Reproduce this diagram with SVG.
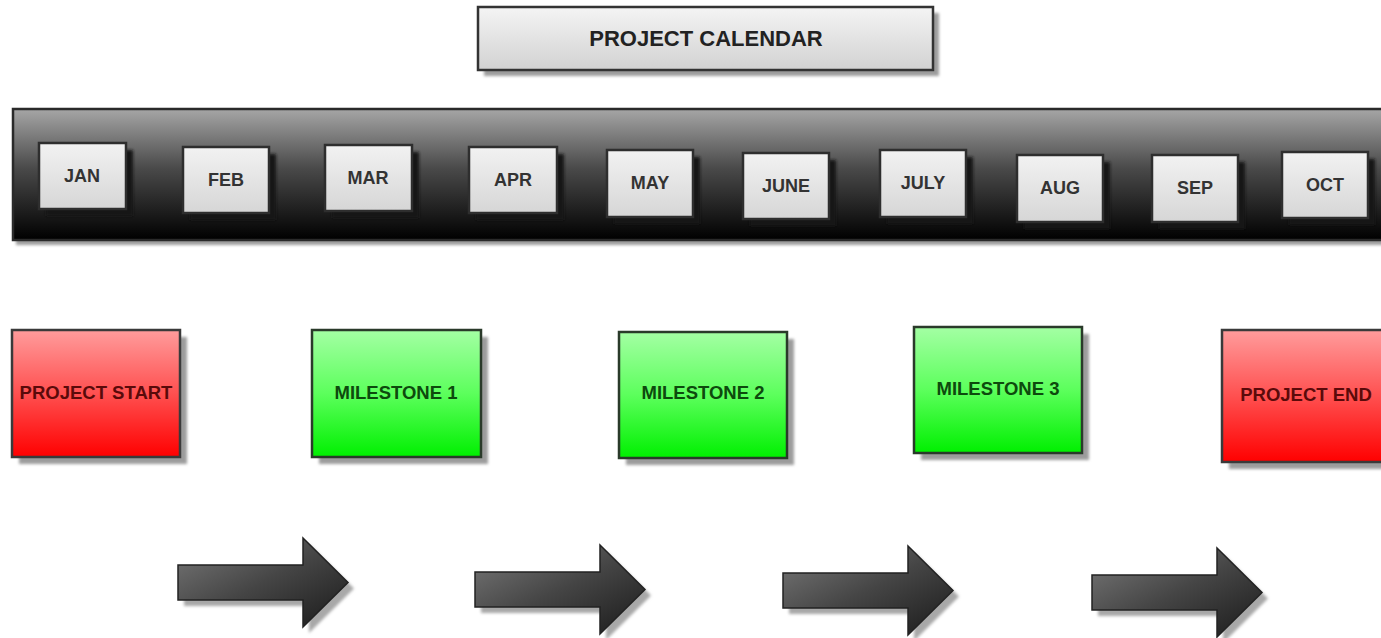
<svg xmlns="http://www.w3.org/2000/svg" width="1381" height="638" viewBox="0 0 1381 638">
<defs>
<linearGradient id="gTitle" x1="0" y1="0" x2="0" y2="1"><stop offset="0" stop-color="#f4f4f4"/><stop offset="1" stop-color="#d2d2d2"/></linearGradient>
<linearGradient id="gBar" x1="0" y1="0" x2="0" y2="1"><stop offset="0" stop-color="#a6a6a6"/><stop offset="0.45" stop-color="#4a4a4a"/><stop offset="1" stop-color="#000"/></linearGradient>
<linearGradient id="gMonth" x1="0" y1="0" x2="0" y2="1"><stop offset="0" stop-color="#f2f2f2"/><stop offset="1" stop-color="#d6d6d6"/></linearGradient>
<linearGradient id="gRed" x1="0" y1="0" x2="0" y2="1"><stop offset="0" stop-color="#ff9c9c"/><stop offset="0.5" stop-color="#ff5050"/><stop offset="1" stop-color="#ff0000"/></linearGradient>
<linearGradient id="gGreen" x1="0" y1="0" x2="0" y2="1"><stop offset="0" stop-color="#a4ffa4"/><stop offset="0.5" stop-color="#5cff5c"/><stop offset="1" stop-color="#00f000"/></linearGradient>
<linearGradient id="gArrow" x1="0" y1="0" x2="1" y2="1"><stop offset="0" stop-color="#7a7a7a"/><stop offset="0.5" stop-color="#454545"/><stop offset="1" stop-color="#1a1a1a"/></linearGradient>
<filter id="blur" x="-10%" y="-10%" width="120%" height="120%"><feGaussianBlur stdDeviation="1.5"/></filter>
<path id="arrowShape" d="M0,0 H125 V-27 L170,17.5 L125,62 V35 H0 Z"/>
</defs>
<style>
.shadow{fill:#9c9c9c;filter:url(#blur)}
.dshadow{fill:#151515;filter:url(#blur)}
.title{fill:url(#gTitle);stroke:#333;stroke-width:2.5}
.month{fill:url(#gMonth);stroke:#2e2e2e;stroke-width:2.5}
.red{fill:url(#gRed);stroke:#3a3a3a;stroke-width:2.5}
.green{fill:url(#gGreen);stroke:#2a3a2a;stroke-width:2.5}
.arrow{fill:url(#gArrow);stroke:#222;stroke-width:1.5}
.ashadow{fill:#a8a8a8;filter:url(#blur)}
text{font-family:"Liberation Sans",Arial,sans-serif;font-weight:bold;text-anchor:middle;dominant-baseline:central}
.tm{font-size:18px;fill:#333}
.tt{font-size:22px;fill:#222}
.tr{font-size:18.5px;fill:#5a0a0a}
.tg{font-size:18.5px;fill:#0d4a0d}
</style>
<rect width="1381" height="638" fill="#fff"/>

<g id="title">
<rect class="shadow" x="484" y="13" width="455" height="63"/>
<rect class="title" x="478" y="7" width="455" height="63"/>
<text class="tt" x="706" y="38">PROJECT CALENDAR</text>
</g>

<g id="calendar-bar">
<rect class="shadow" x="16" y="113" width="1380" height="132"/>
<rect x="13" y="109" width="1380" height="131" fill="url(#gBar)" stroke="#2a2a2a" stroke-width="2.5"/>
</g>

<g id="month-jan"><rect class="dshadow" x="46" y="150" width="87" height="66"/><rect class="month" x="39" y="143" width="87" height="66"/><text class="tm" x="82" y="176">JAN</text></g>
<g id="month-feb"><rect class="dshadow" x="190" y="154" width="86" height="66"/><rect class="month" x="183" y="147" width="86" height="66"/><text class="tm" x="226" y="180">FEB</text></g>
<g id="month-mar"><rect class="dshadow" x="332" y="152" width="87" height="66"/><rect class="month" x="325" y="145" width="87" height="66"/><text class="tm" x="368" y="178">MAR</text></g>
<g id="month-apr"><rect class="dshadow" x="476" y="154" width="88" height="66"/><rect class="month" x="469" y="147" width="88" height="66"/><text class="tm" x="513" y="180">APR</text></g>
<g id="month-may"><rect class="dshadow" x="614" y="157" width="86" height="67"/><rect class="month" x="607" y="150" width="86" height="67"/><text class="tm" x="650" y="183">MAY</text></g>
<g id="month-june"><rect class="dshadow" x="750" y="160" width="86" height="66"/><rect class="month" x="743" y="153" width="86" height="66"/><text class="tm" x="786" y="186">JUNE</text></g>
<g id="month-july"><rect class="dshadow" x="887" y="157" width="86" height="67"/><rect class="month" x="880" y="150" width="86" height="67"/><text class="tm" x="923" y="183">JULY</text></g>
<g id="month-aug"><rect class="dshadow" x="1024" y="162" width="86" height="67"/><rect class="month" x="1017" y="155" width="86" height="67"/><text class="tm" x="1060" y="188">AUG</text></g>
<g id="month-sep"><rect class="dshadow" x="1159" y="162" width="86" height="67"/><rect class="month" x="1152" y="155" width="86" height="67"/><text class="tm" x="1195" y="188">SEP</text></g>
<g id="month-oct"><rect class="dshadow" x="1289" y="159" width="86" height="66"/><rect class="month" x="1282" y="152" width="86" height="66"/><text class="tm" x="1325" y="185">OCT</text></g>

<g id="project-start"><rect class="shadow" x="19" y="337" width="168" height="127"/><rect class="red" x="12" y="330" width="168" height="127"/><text class="tr" x="96" y="392">PROJECT START</text></g>
<g id="milestone-1"><rect class="shadow" x="319" y="337" width="169" height="127"/><rect class="green" x="312" y="330" width="169" height="127"/><text class="tg" x="396" y="392">MILESTONE 1</text></g>
<g id="milestone-2"><rect class="shadow" x="626" y="339" width="168" height="126"/><rect class="green" x="619" y="332" width="168" height="126"/><text class="tg" x="703" y="392">MILESTONE 2</text></g>
<g id="milestone-3"><rect class="shadow" x="921" y="334" width="168" height="126"/><rect class="green" x="914" y="327" width="168" height="126"/><text class="tg" x="998" y="388">MILESTONE 3</text></g>
<g id="project-end"><rect class="shadow" x="1229" y="337" width="168" height="132"/><rect class="red" x="1222" y="330" width="168" height="132"/><text class="tr" x="1306" y="394">PROJECT END</text></g>

<g id="connectors">
<use href="#arrowShape" class="ashadow" x="184" y="571"/><use href="#arrowShape" class="arrow" x="178" y="565"/>
<use href="#arrowShape" class="ashadow" x="481" y="578"/><use href="#arrowShape" class="arrow" x="475" y="572"/>
<use href="#arrowShape" class="ashadow" x="789" y="579"/><use href="#arrowShape" class="arrow" x="783" y="573"/>
<use href="#arrowShape" class="ashadow" x="1098" y="581"/><use href="#arrowShape" class="arrow" x="1092" y="575"/>
</g>
</svg>
